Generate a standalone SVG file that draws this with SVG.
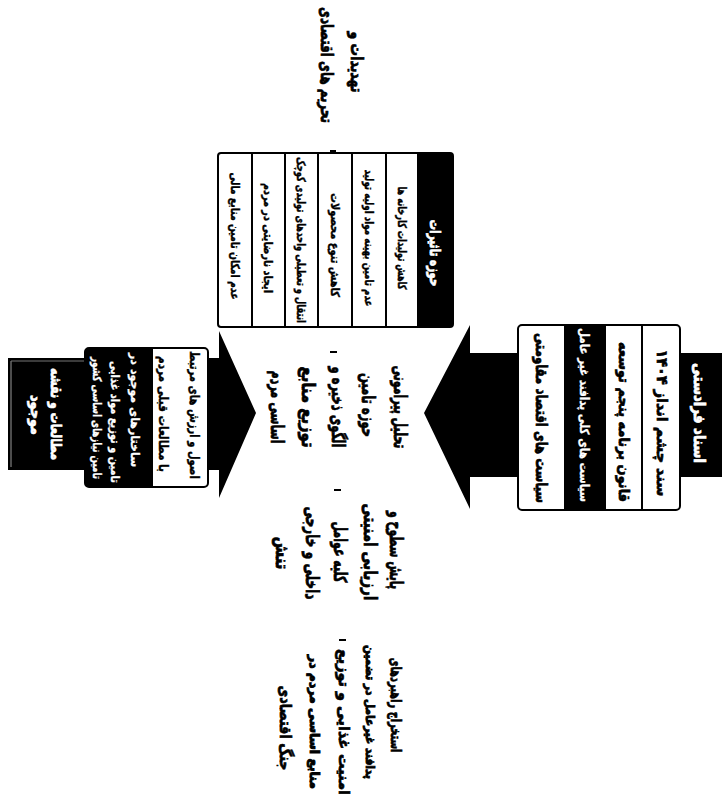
<svg xmlns="http://www.w3.org/2000/svg" width="722" height="810" viewBox="0 0 722 810">
<style>
.t{font-family:"DejaVu Sans",sans-serif;font-weight:bold;text-anchor:middle;fill:#000;stroke:#000;stroke-width:0.7}
.w{fill:#fff;stroke:#fff}
.box{fill:#fff;stroke:#000;stroke-width:2}
.dv{stroke:#000;stroke-width:2}
.blk{fill:#000}
.dash{stroke:#000;stroke-width:2}
</style>
<rect width="722" height="810" fill="#fff"/>
<g id="connectors">
  <polygon class="blk" points="722,353 470,353 470,325 424,413 470,509 470,477 722,477"/>
  <polygon class="blk" points="8,358 219,358 219,331 256,413 219,498 219,470 8,470"/>
  <line x1="11" y1="361" x2="11" y2="467" stroke="#999" stroke-width="1"/>
  <line x1="11" y1="361" x2="86" y2="361" stroke="#777" stroke-width="1"/>
  <line class="dash" x1="330" y1="151" x2="336" y2="151"/>
  <line class="dash" x1="330" y1="352" x2="337" y2="352"/>
  <line class="dash" x1="334" y1="490" x2="341" y2="490"/>
  <line class="dash" x1="339" y1="640" x2="346" y2="640"/>
</g>
<g id="upstream-label">
  <text class="t w" font-size="16" transform="translate(700,413) rotate(90)" dy="0.35em" textLength="100" lengthAdjust="spacingAndGlyphs">اسناد فرادستی</text>
</g>
<g id="upstream-box">
  <rect class="box" x="518" y="325" width="162" height="185" rx="4"/>
  <rect class="blk" x="565" y="326" width="40" height="183"/>
  <line class="dv" x1="565" y1="325" x2="565" y2="510"/>
  <line class="dv" x1="605" y1="325" x2="605" y2="510"/>
  <line class="dv" x1="642" y1="325" x2="642" y2="510"/>
  <text class="t" font-size="15" transform="translate(662,423) rotate(90)" dy="0.35em" textLength="147" lengthAdjust="spacingAndGlyphs">سند چشم انداز ۱۴۰۴</text>
  <text class="t" font-size="15" transform="translate(624,422) rotate(90)" dy="0.35em" textLength="160" lengthAdjust="spacingAndGlyphs">قانون برنامه پنجم توسعه</text>
  <text class="t w" font-size="13" transform="translate(585,415) rotate(90)" dy="0.35em" textLength="174" lengthAdjust="spacingAndGlyphs" style="stroke-width:0.3">سیاست های کلی پدافند غیر عامل</text>
  <text class="t" font-size="16" transform="translate(542,418) rotate(90)" dy="0.35em" textLength="170" lengthAdjust="spacingAndGlyphs">سیاست های اقتصاد مقاومتی</text>
</g>
<g id="threats-label">
  <text class="t" font-size="17" transform="translate(357,62) rotate(90)" dy="0.35em" textLength="61" lengthAdjust="spacingAndGlyphs">تهدیدات و</text>
  <text class="t" font-size="17" transform="translate(327,65) rotate(90)" dy="0.35em" textLength="116" lengthAdjust="spacingAndGlyphs">تحریم های اقتصادی</text>
</g>
<g id="impact-box">
  <rect class="box" x="218" y="153" width="235" height="174" rx="3"/>
  <rect class="blk" x="418" y="154" width="34" height="172"/>
  <line class="dv" x1="252" y1="153" x2="252" y2="327"/>
  <line class="dv" x1="285" y1="153" x2="285" y2="327"/>
  <line class="dv" x1="318" y1="153" x2="318" y2="327"/>
  <line class="dv" x1="352" y1="153" x2="352" y2="327"/>
  <line class="dv" x1="386" y1="153" x2="386" y2="327"/>
  <line class="dv" x1="418" y1="153" x2="418" y2="327"/>
  <text class="t w" font-size="15" transform="translate(435,253) rotate(90)" dy="0.35em" textLength="67" lengthAdjust="spacingAndGlyphs">حوزه تاثیرات</text>
  <text class="t" font-size="12" transform="translate(402,238) rotate(90)" dy="0.35em" textLength="103" lengthAdjust="spacingAndGlyphs" style="stroke-width:0.4">کاهش تولیدات کارخانه ها</text>
  <text class="t" font-size="12" transform="translate(369,238) rotate(90)" dy="0.35em" textLength="137" lengthAdjust="spacingAndGlyphs" style="stroke-width:0.4">عدم تامین بهینه مواد اولیه تولید</text>
  <text class="t" font-size="12" transform="translate(335,245) rotate(90)" dy="0.35em" textLength="104" lengthAdjust="spacingAndGlyphs" style="stroke-width:0.4">کاهش تنوع محصولات</text>
  <text class="t" font-size="12" transform="translate(301,240) rotate(90)" dy="0.35em" textLength="166" lengthAdjust="spacingAndGlyphs" style="stroke-width:0.4">انتقال و تعطیلی واحدهای تولیدی کوچک</text>
  <text class="t" font-size="12" transform="translate(268,238) rotate(90)" dy="0.35em" textLength="110" lengthAdjust="spacingAndGlyphs" style="stroke-width:0.4">ایجاد نارضایتی در مردم</text>
  <text class="t" font-size="12" transform="translate(235,236) rotate(90)" dy="0.35em" textLength="127" lengthAdjust="spacingAndGlyphs" style="stroke-width:0.4">عدم امکان تامین منابع مالی</text>
</g>
<g id="studies-label">
  <text class="t w" font-size="15" transform="translate(56,414) rotate(90)" dy="0.35em" textLength="92" lengthAdjust="spacingAndGlyphs">مطالعات و نقشه</text>
  <text class="t w" font-size="15" transform="translate(36,415) rotate(90)" dy="0.35em" textLength="40" lengthAdjust="spacingAndGlyphs">موجود</text>
</g>
<g id="studies-box">
  <rect class="box" x="85" y="348" width="123" height="139" rx="4"/>
  <rect class="blk" x="86" y="349" width="66" height="137"/>
  <line class="dv" x1="152" y1="348" x2="152" y2="487"/>
  <text class="t" font-size="13" transform="translate(195,415) rotate(90)" dy="0.35em" textLength="128" lengthAdjust="spacingAndGlyphs" style="stroke-width:0.4">اصول و ارزش های مرتبط</text>
  <text class="t" font-size="13" transform="translate(164,414) rotate(90)" dy="0.35em" textLength="116" lengthAdjust="spacingAndGlyphs" style="stroke-width:0.4">با مطالعات قبلی مردم</text>
  <text class="t w" font-size="12" transform="translate(135,410) rotate(90)" dy="0.35em" textLength="114" lengthAdjust="spacingAndGlyphs" style="stroke-width:0.3">ساختارهای موجود در</text>
  <text class="t w" font-size="12" transform="translate(115,422) rotate(90)" dy="0.35em" textLength="122" lengthAdjust="spacingAndGlyphs" style="stroke-width:0.3">تامین و توزیع مواد غذایی</text>
  <text class="t w" font-size="12" transform="translate(97,418) rotate(90)" dy="0.35em" textLength="122" lengthAdjust="spacingAndGlyphs" style="stroke-width:0.3">تامین نیازهای اساسی کشور</text>
</g>
<g id="center-text">
  <text class="t" font-size="18" transform="translate(400,407) rotate(90)" dy="0.35em" textLength="83" lengthAdjust="spacingAndGlyphs">تحلیل پیرامونی</text>
  <text class="t" font-size="18" transform="translate(368,405) rotate(90)" dy="0.35em" textLength="64" lengthAdjust="spacingAndGlyphs">حوزه تامین</text>
  <text class="t" font-size="18" transform="translate(338,407) rotate(90)" dy="0.35em" textLength="81" lengthAdjust="spacingAndGlyphs">الگوی ذخیره و</text>
  <text class="t" font-size="18" transform="translate(308,407) rotate(90)" dy="0.35em" textLength="81" lengthAdjust="spacingAndGlyphs">توزیع منابع</text>
  <text class="t" font-size="18" transform="translate(277,407) rotate(90)" dy="0.35em" textLength="73" lengthAdjust="spacingAndGlyphs">اساسی مردم</text>
</g>
<g id="monitoring-text">
  <text class="t" font-size="18" transform="translate(396,550) rotate(90)" dy="0.35em" textLength="78" lengthAdjust="spacingAndGlyphs">پایش سطوح و</text>
  <text class="t" font-size="18" transform="translate(370,552) rotate(90)" dy="0.35em" textLength="97" lengthAdjust="spacingAndGlyphs">ارزیابی امنیتی</text>
  <text class="t" font-size="18" transform="translate(340,552) rotate(90)" dy="0.35em" textLength="61" lengthAdjust="spacingAndGlyphs">کلیه عوامل</text>
  <text class="t" font-size="18" transform="translate(312,553) rotate(90)" dy="0.35em" textLength="93" lengthAdjust="spacingAndGlyphs">داخلی و خارجی</text>
  <text class="t" font-size="18" transform="translate(282,553) rotate(90)" dy="0.35em" textLength="33" lengthAdjust="spacingAndGlyphs">تنش</text>
</g>
<g id="strategy-text">
  <text class="t" font-size="15" transform="translate(396,705) rotate(90)" dy="0.35em" textLength="95" lengthAdjust="spacingAndGlyphs">استخراج راهبردهای</text>
  <text class="t" font-size="12" transform="translate(370,712) rotate(90)" dy="0.35em" textLength="134" lengthAdjust="spacingAndGlyphs" style="stroke-width:0.9">پدافند غیرعامل در تضمین</text>
  <text class="t" font-size="15" transform="translate(344,722) rotate(90)" dy="0.35em" textLength="146" lengthAdjust="spacingAndGlyphs">امنیت غذایی و توزیع</text>
  <text class="t" font-size="13" transform="translate(315,722) rotate(90)" dy="0.35em" textLength="134" lengthAdjust="spacingAndGlyphs" style="stroke-width:0.9">منابع اساسی مردم در</text>
  <text class="t" font-size="16" transform="translate(286,728) rotate(90)" dy="0.35em" textLength="85" lengthAdjust="spacingAndGlyphs">جنگ اقتصادی</text>
</g>
</svg>
